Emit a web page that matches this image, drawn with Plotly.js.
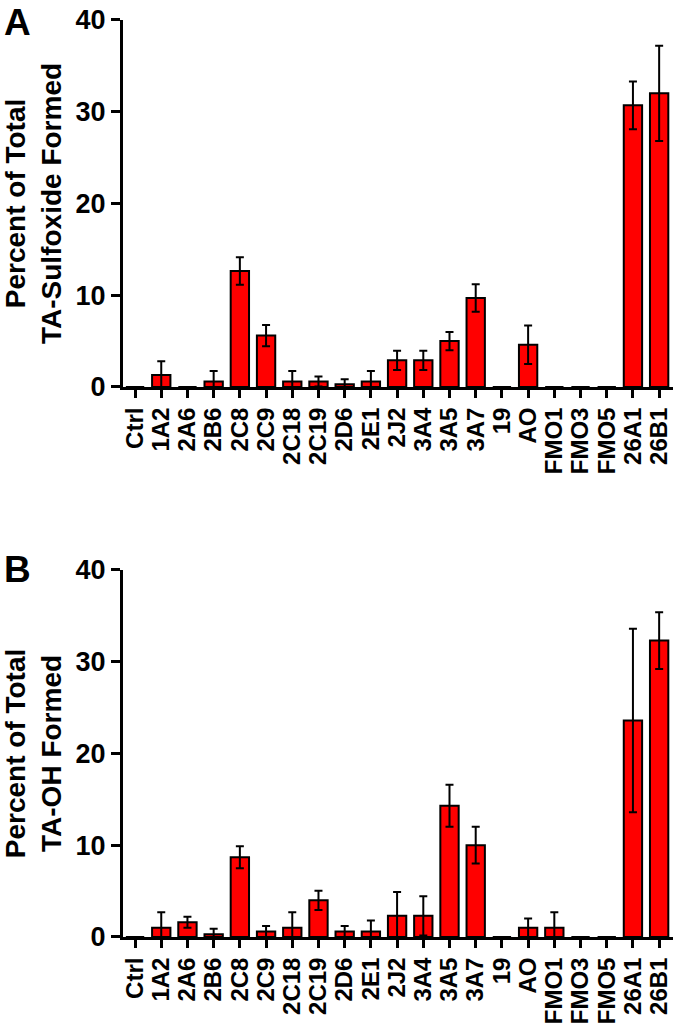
<!DOCTYPE html>
<html>
<head>
<meta charset="utf-8">
<script src="https://cdn.plot.ly/plotly-3.0.1.min.js"></script>
<style>html,body{margin:0;padding:0;background:#fff;}#chart{width:681px;height:1024px;}</style>
</head>
<body>
<div id="chart"></div>
<script>
const categories = ['Ctrl','1A2','2A6','2B6','2C8','2C9','2C18','2C19','2D6','2E1','2J2','3A4','3A5','3A7','19','AO','FMO1','FMO3','FMO5','26A1','26B1'];
const sulfoxide    = [0, 1.3, 0, 0.6, 12.65, 5.6, 0.6, 0.6, 0.3, 0.6, 2.9, 2.9, 5.0, 9.7, 0, 4.6, 0, 0, 0, 30.7, 32.0];
const sulfoxideErr = [0, 1.5, 0, 1.15, 1.5, 1.15, 1.15, 0.55, 0.55, 1.15, 1.05, 1.05, 1.0, 1.5, 0, 2.1, 0, 0, 0, 2.6, 5.2];
const hydroxy      = [0, 1.0, 1.6, 0.3, 8.7, 0.6, 1.0, 4.0, 0.6, 0.6, 2.3, 2.3, 14.3, 10.0, 0, 1.0, 1.0, 0, 0, 23.6, 32.3];
const hydroxyErr   = [0, 1.7, 0.6, 0.6, 1.2, 0.6, 1.7, 1.05, 0.6, 1.2, 2.6, 2.15, 2.3, 2.0, 0, 1.0, 1.7, 0, 0, 10.0, 3.1];
const yTickVals = [0, 10, 20, 30, 40];
const panelLabels = ['A', 'B'];
const yTitles = ['Percent of Total<br>TA-Sulfoxide Formed', 'Percent of Total<br>TA-OH Formed'];

const FONT = '"Liberation Sans", Arial, Helvetica, sans-serif';

function barTrace(vals, errs, xa, ya) {
  return {
    type: 'bar', x: categories, y: vals, xaxis: xa, yaxis: ya,
    width: 0.7,
    marker: {color: '#ff0000', line: {color: '#000', width: 2}},
    error_y: {type: 'data', array: errs, visible: true, color: '#000', thickness: 2, width: 4},
    showlegend: false, hoverinfo: 'x+y'
  };
}

const xBase = {
  type: 'category', range: [-0.46, 20.53], domain: [0.1806, 0.9883],
  tickmode: 'array', tickvals: categories, ticktext: categories,
  showline: true, linewidth: 3, linecolor: '#000', showgrid: false, zeroline: false,
  ticks: 'outside', ticklen: 8, tickwidth: 3, tickcolor: '#000', tickangle: -90,
  tickfont: {family: FONT, size: 24, color: '#000', weight: 'bold'}, fixedrange: true
};
function yBase(domain, title) {
  return {
    range: [0, 40], domain: domain, tickmode: 'array', tickvals: yTickVals,
    showline: true, linewidth: 3, linecolor: '#000', showgrid: false, zeroline: false,
    ticks: 'outside', ticklen: 9, tickwidth: 3, tickcolor: '#000',
    tickfont: {family: FONT, size: 27, color: '#000', weight: 'bold'},
    title: {text: title, font: {family: FONT, size: 28, color: '#000', weight: 'bold'}, standoff: 10},
    fixedrange: true
  };
}

const layout = {
  width: 681, height: 1024,
  margin: {l: 0, r: 0, t: 0, b: 0},
  paper_bgcolor: '#fff', plot_bgcolor: '#fff',
  bargap: 0.3,
  xaxis: Object.assign({}, xBase, {anchor: 'y'}),
  yaxis: Object.assign(yBase([0.6221, 0.9805], yTitles[0]), {anchor: 'x'}),
  xaxis2: Object.assign({}, xBase, {anchor: 'y2'}),
  yaxis2: Object.assign(yBase([0.0850, 0.4434], yTitles[1]), {anchor: 'x2'}),
  annotations: [
    {text: panelLabels[0], xref: 'paper', yref: 'paper', x: 0.003, y: 1.0, xanchor: 'left', yanchor: 'top', showarrow: false,
     font: {family: FONT, size: 37, color: '#000', weight: 'bold'}},
    {text: panelLabels[1], xref: 'paper', yref: 'paper', x: 0.003, y: 0.4657, xanchor: 'left', yanchor: 'top', showarrow: false,
     font: {family: FONT, size: 37, color: '#000', weight: 'bold'}}
  ]
};

Plotly.newPlot('chart', [barTrace(sulfoxide, sulfoxideErr, 'x', 'y'), barTrace(hydroxy, hydroxyErr, 'x2', 'y2')], layout, {staticPlot: true});
</script>
</body>
</html>
